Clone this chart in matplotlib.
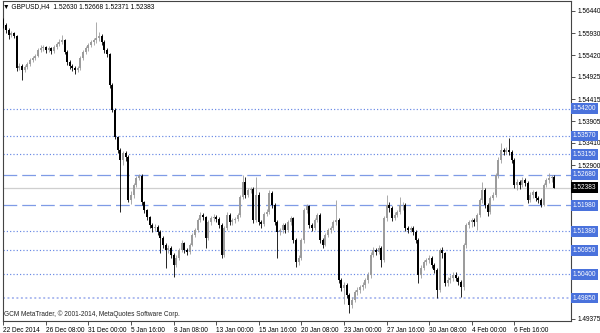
import matplotlib
matplotlib.use("Agg")
import numpy as np
from matplotlib import pyplot as plt
from matplotlib.transforms import blended_transform_factory

plt.rcParams['font.family'] = ['Liberation Sans', 'DejaVu Sans']

# GBPUSD H4 bars
first_open = 1.5623
closes = [
    1.5612, 1.5600, 1.5589, 1.5593, 1.5587, 1.5513, 1.5518, 1.5509, 1.5515, 1.5522,
    1.5531, 1.5536, 1.5541, 1.5554, 1.5559, 1.5561, 1.5554, 1.5559, 1.5552, 1.5561,
    1.5568, 1.5573, 1.5577, 1.5550, 1.5527, 1.5518, 1.5513, 1.5509, 1.5513, 1.5536,
    1.5550, 1.5559, 1.5566, 1.5573, 1.5577, 1.5582, 1.5587, 1.5573, 1.5554, 1.5545,
    1.5474, 1.5417, 1.5355, 1.5325, 1.5302, 1.5318, 1.5309, 1.5210, 1.5222, 1.5244,
    1.5261, 1.5265, 1.5205, 1.5187, 1.5171, 1.5153, 1.5146, 1.5148, 1.5137, 1.5123,
    1.5107, 1.5095, 1.5100, 1.5084, 1.5061, 1.5077, 1.5095, 1.5111, 1.5095, 1.5091,
    1.5107, 1.5130, 1.5141, 1.5164, 1.5176, 1.5171, 1.5123, 1.5159, 1.5169, 1.5171,
    1.5167, 1.5153, 1.5084, 1.5146, 1.5176, 1.5159, 1.5164, 1.5167, 1.5176, 1.5217,
    1.5251, 1.5222, 1.5233, 1.5235, 1.5164, 1.5222, 1.5159, 1.5155, 1.5178, 1.5183,
    1.5226, 1.5199, 1.5159, 1.5137, 1.5141, 1.5153, 1.5141, 1.5159, 1.5169, 1.5118,
    1.5068, 1.5077, 1.5118, 1.5187, 1.5196, 1.5153, 1.5146, 1.5164, 1.5176, 1.5118,
    1.5107, 1.5130, 1.5141, 1.5146, 1.5159, 1.5164, 1.5026, 1.5008, 1.5015, 1.4992,
    1.4969, 1.4980, 1.4998, 1.5003, 1.5010, 1.5015, 1.5026, 1.5038, 1.5084, 1.5095,
    1.5091, 1.5100, 1.5072, 1.5169, 1.5199, 1.5192, 1.5169, 1.5176, 1.5183, 1.5199,
    1.5199, 1.5146, 1.5141, 1.5146, 1.5137, 1.5118, 1.5038, 1.5054, 1.5068, 1.5072,
    1.5077, 1.5061, 1.5049, 1.5003, 1.5095, 1.5088, 1.5019, 1.5026, 1.5031, 1.5038,
    1.5031, 1.5022, 1.5010, 1.5107, 1.5153, 1.5159, 1.5164, 1.5159, 1.5176, 1.5210,
    1.5233, 1.5199, 1.5183, 1.5215, 1.5222, 1.5267, 1.5302, 1.5325, 1.5320, 1.5325,
    1.5320, 1.5302, 1.5244, 1.5251, 1.5244, 1.5256, 1.5249, 1.5210, 1.5222, 1.5228,
    1.5215, 1.5210, 1.5199, 1.5244, 1.5256, 1.5261, 1.5263, 1.52383,
]
highs = [
    1.5628, 1.5616, 1.5604, 1.5598, 1.5596, 1.5590, 1.5525, 1.5522, 1.5520, 1.5527,
    1.5536, 1.5541, 1.5545, 1.5559, 1.5566, 1.5566, 1.5564, 1.5563, 1.5561, 1.5566,
    1.5573, 1.5580, 1.5589, 1.5580, 1.5554, 1.5531, 1.5522, 1.5518, 1.5518, 1.5541,
    1.5554, 1.5564, 1.5571, 1.5577, 1.5582, 1.5619, 1.5596, 1.5591, 1.5577, 1.5559,
    1.5548, 1.5479, 1.5421, 1.5358, 1.5330, 1.5322, 1.5322, 1.5313, 1.5230, 1.5249,
    1.5265, 1.5270, 1.5270, 1.5208, 1.5190, 1.5174, 1.5158, 1.5155, 1.5153, 1.5141,
    1.5127, 1.5111, 1.5107, 1.5104, 1.5088, 1.5084, 1.5100, 1.5118, 1.5114, 1.5100,
    1.5111, 1.5134, 1.5146, 1.5169, 1.5183, 1.5180, 1.5174, 1.5164, 1.5174, 1.5178,
    1.5176, 1.5171, 1.5158, 1.5151, 1.5183, 1.5180, 1.5169, 1.5171, 1.5180, 1.5222,
    1.5267, 1.5263, 1.5238, 1.5240, 1.5240, 1.5263, 1.5228, 1.5164, 1.5183, 1.5190,
    1.5233, 1.5231, 1.5203, 1.5164, 1.5146, 1.5158, 1.5158, 1.5164, 1.5174, 1.5171,
    1.5123, 1.5084, 1.5123, 1.5192, 1.5201, 1.5199, 1.5158, 1.5169, 1.5180, 1.5180,
    1.5123, 1.5134, 1.5146, 1.5151, 1.5164, 1.5210, 1.5169, 1.5031, 1.5022, 1.5019,
    1.4996, 1.4987, 1.5003, 1.5010, 1.5015, 1.5022, 1.5031, 1.5045, 1.5091, 1.5102,
    1.5100, 1.5107, 1.5104, 1.5174, 1.5222, 1.5206, 1.5196, 1.5183, 1.5187, 1.5217,
    1.5206, 1.5203, 1.5151, 1.5151, 1.5151, 1.5141, 1.5123, 1.5061, 1.5072, 1.5077,
    1.5084, 1.5081, 1.5065, 1.5054, 1.5100, 1.5102, 1.5091, 1.5033, 1.5038, 1.5045,
    1.5045, 1.5035, 1.5026, 1.5111, 1.5158, 1.5164, 1.5169, 1.5169, 1.5180, 1.5215,
    1.5251, 1.5238, 1.5203, 1.5219, 1.5228, 1.5272, 1.5309, 1.5341, 1.5330, 1.5332,
    1.5352, 1.5325, 1.5306, 1.5258, 1.5256, 1.5263, 1.5261, 1.5253, 1.5228, 1.5233,
    1.5231, 1.5219, 1.5215, 1.5249, 1.5261, 1.5272, 1.5267, 1.52668,
]
lows = [
    1.5605, 1.5594, 1.5580, 1.5584, 1.5582, 1.5506, 1.5508, 1.5486, 1.5503, 1.5511,
    1.5518, 1.5527, 1.5532, 1.5538, 1.5550, 1.5552, 1.5548, 1.5550, 1.5545, 1.5548,
    1.5557, 1.5563, 1.5568, 1.5545, 1.5520, 1.5511, 1.5506, 1.5500, 1.5504, 1.5509,
    1.5532, 1.5545, 1.5552, 1.5561, 1.5566, 1.5570, 1.5575, 1.5566, 1.5548, 1.5538,
    1.5468, 1.5412, 1.5350, 1.5318, 1.5183, 1.5290, 1.5300, 1.5205, 1.5201, 1.5215,
    1.5240, 1.5256, 1.5199, 1.5180, 1.5164, 1.5146, 1.5137, 1.5139, 1.5130, 1.5088,
    1.5100, 1.5054, 1.5088, 1.5077, 1.5033, 1.5056, 1.5072, 1.5091, 1.5088, 1.5084,
    1.5086, 1.5104, 1.5125, 1.5137, 1.5160, 1.5164, 1.5100, 1.5118, 1.5153, 1.5162,
    1.5160, 1.5146, 1.5077, 1.5079, 1.5141, 1.5153, 1.5153, 1.5158, 1.5162, 1.5171,
    1.5212, 1.5215, 1.5217, 1.5226, 1.5158, 1.5160, 1.5153, 1.5146, 1.5150, 1.5174,
    1.5178, 1.5192, 1.5153, 1.5077, 1.5130, 1.5134, 1.5134, 1.5137, 1.5153, 1.5111,
    1.5056, 1.5061, 1.5072, 1.5111, 1.5180, 1.5146, 1.5139, 1.5141, 1.5160, 1.5111,
    1.5100, 1.5104, 1.5125, 1.5134, 1.5141, 1.5153, 1.5019, 1.5000, 1.4971, 1.4985,
    1.4950, 1.4962, 1.4976, 1.4992, 1.4996, 1.5003, 1.5008, 1.5019, 1.5031, 1.5079,
    1.5084, 1.5086, 1.5056, 1.5068, 1.5162, 1.5183, 1.5162, 1.5164, 1.5171, 1.5178,
    1.5187, 1.5139, 1.5134, 1.5137, 1.5130, 1.5111, 1.5019, 1.5031, 1.5049, 1.5061,
    1.5065, 1.5054, 1.5042, 1.4985, 1.4998, 1.5077, 1.5012, 1.5012, 1.5019, 1.5024,
    1.5024, 1.5015, 1.4987, 1.5003, 1.5100, 1.5146, 1.5148, 1.5151, 1.5141, 1.5171,
    1.5203, 1.5192, 1.5174, 1.5178, 1.5210, 1.5217, 1.5261, 1.5295, 1.5313, 1.5316,
    1.5313, 1.5295, 1.5237, 1.5233, 1.5235, 1.5240, 1.5242, 1.5203, 1.5205, 1.5215,
    1.5208, 1.5203, 1.5194, 1.5196, 1.5240, 1.5249, 1.5251, 1.52371,
]
assert len(closes) == len(highs) == len(lows)

# time axis labels, one every 16 bars
x_labels = ['22 Dec 2014', '26 Dec 08:00', '31 Dec 00:00', '5 Jan 16:00', '8 Jan 08:00',
            '13 Jan 00:00', '15 Jan 16:00', '20 Jan 08:00', '23 Jan 00:00', '27 Jan 16:00',
            '30 Jan 08:00', '4 Feb 00:00', '6 Feb 16:00']
# price scale; the ones hidden under the level boxes get a tick but no text
y_ticks = [1.56440, 1.55930, 1.55420, 1.54925, 1.54415, 1.53905, 1.53410, 1.52900,
           1.52390, 1.51880, 1.51375, 1.50865, 1.50355, 1.49850, 1.49375]
y_hidden = [1.52390, 1.51880, 1.51375, 1.50865, 1.50355, 1.49850]

# horizontal levels drawn on the chart
dotted_levels = [1.54200, 1.53570, 1.53150, 1.51380, 1.50950, 1.50400]
dashed_levels = [1.52680, 1.51980]
pale_level = 1.49850
last_price = 1.52383

opens = [first_open] + closes[:-1]
o = np.array(opens); c = np.array(closes); h = np.array(highs); l = np.array(lows)
idx = np.arange(len(c))
up = c >= o

fig = plt.figure(figsize=(6, 3.33), dpi=100)
ax = fig.add_axes([2.5/600, 12/333, 568.5/600, 320.5/333])

blue = '#6687e4'
for lv in dotted_levels:
    ax.axhline(lv, color=blue, lw=0.85, ls=(0, (1, 1.8)), zorder=1)
for lv in dashed_levels:
    ax.axhline(lv, color='#7f9be6', lw=0.9, ls=(0, (11, 4)), zorder=1)
ax.axhline(pale_level, color='#aebcf0', lw=1.4, ls=(0, (1, 1.3)), zorder=1)
ax.axhline(last_price, color='#cfcfcf', lw=0.9, zorder=1)

gray = '#9c9c9c'
ax.vlines(idx[up], l[up], h[up], color=gray, lw=0.6, zorder=2)
ax.vlines(idx[~up], l[~up], h[~up], color='black', lw=0.6, zorder=3)
ax.bar(idx[up], c[up] - o[up], bottom=o[up], width=0.75, color=gray, lw=0, zorder=2)
ax.bar(idx[~up], o[~up] - c[~up], bottom=c[~up], width=0.75, color='black', lw=0, zorder=3)

ax.set_xlim(-0.3, 213.3)
ax.set_ylim(1.49322, 1.56681)

ax.set_xticks(np.arange(len(x_labels)) * 16)
ax.set_xticklabels(x_labels, ha='left', fontsize=4.7)
ax.yaxis.tick_right()
ax.set_yticks(y_ticks)
ax.set_yticklabels(['' if v in y_hidden else '%.5f' % v for v in y_ticks], fontsize=4.7)
ax.tick_params(axis='x', direction='out', length=3, width=0.6, pad=1.5, color='#333333')
ax.tick_params(axis='y', direction='out', length=3, width=0.6, pad=1.5, color='#333333')
for sp in ax.spines.values():
    sp.set_color('#444444')
    sp.set_linewidth(0.8)

# price boxes on the right scale
tr = blended_transform_factory(ax.transAxes, ax.transData)
box_levels = dotted_levels + dashed_levels + [pale_level]
for lv in box_levels:
    ax.text(1.0035, lv, '%.5f' % lv, transform=tr, fontsize=4.7, color='white',
            va='center', ha='left', clip_on=False, zorder=5,
            bbox=dict(boxstyle='square,pad=0.3', fc='#4a72dc', ec='none'))
ax.text(1.0035, last_price, '%.5f' % last_price, transform=tr, fontsize=4.7, color='white',
        va='center', ha='left', clip_on=False, zorder=5,
        bbox=dict(boxstyle='square,pad=0.3', fc='black', ec='none'))

fig.text(3/600, 1 - 7/333, '\u25bc GBPUSD,H4  1.52630 1.52668 1.52371 1.52383',
         fontsize=4.8, va='center', ha='left')
fig.text(4/600, 1 - 314/333, 'GCM MetaTrader, \u00a9 2001-2014, MetaQuotes Software Corp.',
         fontsize=4.7, va='center', ha='left', color='#222222')

fig.savefig('out.png', dpi=100)
